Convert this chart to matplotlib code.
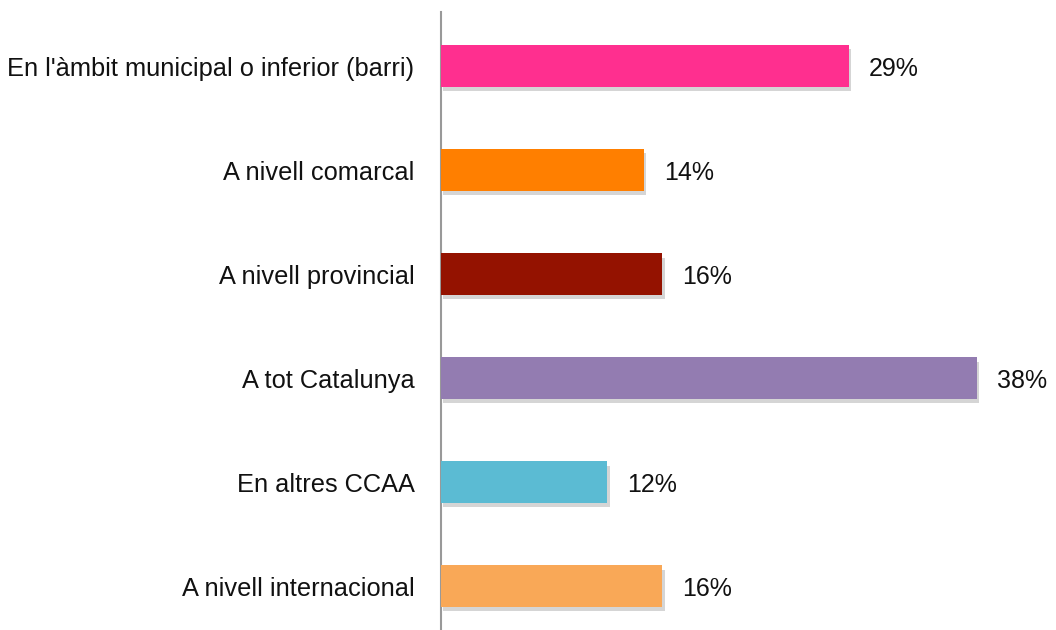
import matplotlib.pyplot as plt
import matplotlib.patheffects as pe

categories = [
    "En l'àmbit municipal o inferior (barri)",
    "A nivell comarcal",
    "A nivell provincial",
    "A tot Catalunya",
    "En altres CCAA",
    "A nivell internacional",
]
# bar lengths (labels show the rounded value)
values = [28.9, 14.4, 15.7, 38.0, 11.8, 15.7]
colors = ["#FF2F8F", "#FF7F00", "#941200", "#937CB1", "#5BBBD3", "#F9A857"]

plt.rcParams['font.family'] = ['Liberation Sans', 'DejaVu Sans']

fig = plt.figure(figsize=(10.56, 6.30), dpi=100)
ax = fig.add_axes([441 / 1056, 0, 1 - 441 / 1056, 618 / 630])

ypos = list(range(len(categories)))
bars = ax.barh(ypos, values, height=0.4, color=colors, zorder=3)
for b in bars:
    b.set_path_effects([pe.SimplePatchShadow(offset=(1.5, -3), shadow_rgbFace="#777777", alpha=0.3), pe.Normal()])

for y, v in zip(ypos, values):
    ax.text(v + 1.4, y, f"{round(v)}%", va="center_baseline", ha="left", fontsize=18, color="#111111")

ax.set_xlim(0, 43.6)
ax.set_ylim(5.42, -0.52)
ax.set_yticks(ypos)
ax.set_yticklabels(categories, fontsize=18.3, color="#111111", va="center_baseline")
ax.tick_params(axis="y", length=0, pad=19)
ax.set_xticks([])
for s in ["top", "right", "bottom"]:
    ax.spines[s].set_visible(False)
ax.spines["left"].set_color("#999999")
ax.spines["left"].set_linewidth(1.5)

fig.savefig("out.png", dpi=100)
